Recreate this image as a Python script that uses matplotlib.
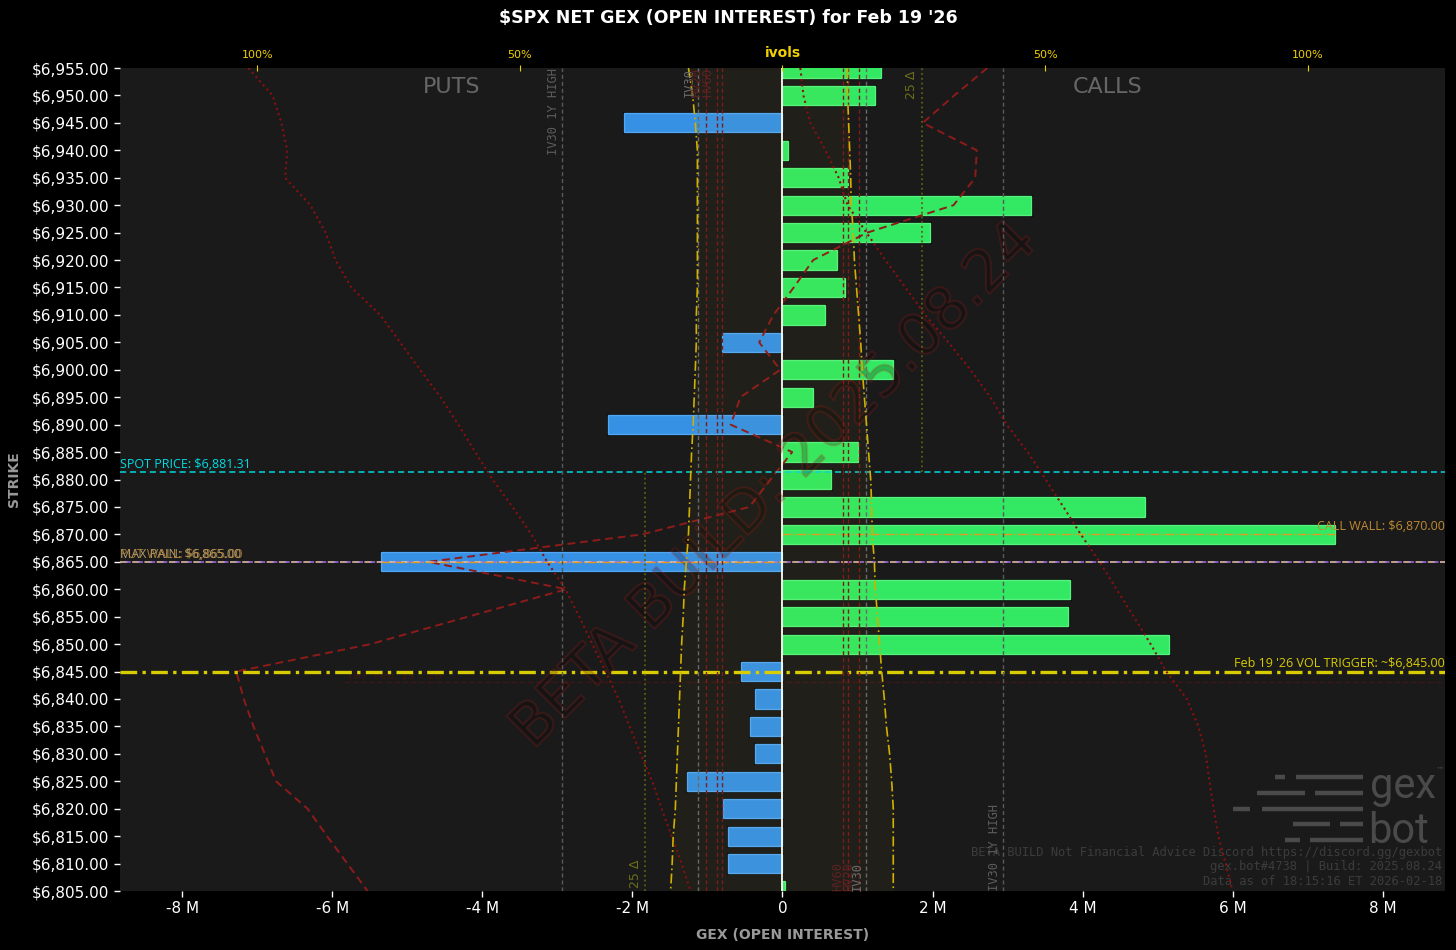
import numpy as np
import matplotlib
matplotlib.use('Agg')
import matplotlib.pyplot as plt
from matplotlib import patheffects
from matplotlib.lines import Line2D
from matplotlib.ticker import FuncFormatter, FixedLocator

plt.rcParams['font.family'] = ['DejaVu Sans']
plt.rcParams['text.parse_math'] = False

# ==================== 数据 ====================
strikes = [6955, 6950, 6945, 6940, 6935, 6930, 6925, 6920, 6915, 6910,
           6905, 6900, 6895, 6890, 6885, 6880, 6875, 6870, 6865, 6860,
           6855, 6850, 6845, 6840, 6835, 6830, 6825, 6820, 6815, 6810, 6805]

# net GEX by strike (millions)
net_gex_m = [1.31, 1.24, -2.11, 0.07, 0.87, 3.31, 1.97, 0.73, 0.84, 0.57,
             -0.81, 1.48, 0.41, -2.32, 1.01, 0.65, 4.83, 7.37, -5.35, 3.83,
             3.81, 5.15, -0.55, -0.37, -0.43, -0.37, -1.27, -0.79, -0.73, -0.72, 0.04]

# previous profile (dashed dark red, millions)
profile_m = [2.73, 2.29, 1.87, 2.59, 2.57, 2.28, 1.13, 0.41, 0.15, -0.12,
             -0.31, -0.03, -0.56, -0.69, 0.13, -0.16, -0.44, -1.87, -4.72, -2.88,
             -4.19, -5.49, -7.28, -7.18, -7.05, -6.90, -6.75, -6.33, -6.07, -5.80, -5.53]

# ivols (fraction, 1.0 = 100%)
put_skew = [1.017, 0.971, 0.954, 0.943, 0.947, 0.899, 0.870, 0.851, 0.821, 0.766,
            0.728, 0.690, 0.651, 0.617, 0.585, 0.552, 0.514, 0.478, 0.448, 0.413,
            0.387, 0.362, 0.337, 0.312, 0.291, 0.270, 0.248, 0.230, 0.211, 0.192, 0.175]
call_skew = [0.034, 0.040, 0.053, 0.082, 0.107, 0.124, 0.160, 0.196, 0.234, 0.272,
             0.316, 0.358, 0.396, 0.427, 0.467, 0.501, 0.535, 0.568, 0.604, 0.636,
             0.669, 0.701, 0.731, 0.770, 0.792, 0.806, 0.813, 0.821, 0.830, 0.844, 0.857]
put_ivol = [0.179, 0.171, 0.166, 0.162, 0.162, 0.162, 0.162, 0.162, 0.162, 0.164,
            0.164, 0.166, 0.168, 0.170, 0.173, 0.175, 0.177, 0.179, 0.183, 0.187,
            0.189, 0.192, 0.194, 0.196, 0.198, 0.200, 0.202, 0.204, 0.208, 0.210, 0.213]
call_ivol = [0.124, 0.124, 0.126, 0.128, 0.130, 0.131, 0.135, 0.137, 0.141, 0.145,
             0.149, 0.152, 0.156, 0.160, 0.164, 0.168, 0.170, 0.171, 0.175, 0.177,
             0.181, 0.185, 0.189, 0.194, 0.198, 0.204, 0.208, 0.211, 0.211, 0.211, 0.211]

iv30_1y_high = 0.42
iv30 = 0.16
hv_levels = [('HV20', 0.145), ('HV60', 0.124), ('', 0.115)]
delta25_put = 0.261
delta25_call = 0.265

spot_price = 6881.31
max_pain = 6865.0
put_wall = 6865.0
call_wall = 6870.0
vol_trigger = 6845.0
weekly_level = 6843.1

title = "$SPX NET GEX (OPEN INTEREST) for Feb 19 '26"
footer = ("BETA BUILD Not Financial Advice Discord https://discord.gg/gexbot\n"
          "gex.bot#4738 | Build: 2025.08.24\n"
          "Data as of 18:15:16 ET 2026-02-18")

strikes = np.array(strikes, dtype=float)
net_gex_m = np.array(net_gex_m)
put_skew = np.array(put_skew)
call_skew = np.array(call_skew)
put_ivol = np.array(put_ivol)
call_ivol = np.array(call_ivol)

GEX_LIM = 8.83
VOL_PER_M = 7.0   # 100% ivol == 7M on main axis

# ==================== 画布 ====================
fig = plt.figure(figsize=(14.56, 9.5), dpi=100, facecolor='black')
ax = fig.add_axes([0.0824, 0.0621, 0.9100, 0.8663])
ax.set_facecolor('#1a1a1a')
for s in ax.spines.values():
    s.set_visible(False)

# bars
bar_colors = ['#33e862' if v > 0 else '#3690e4' for v in net_gex_m]
bar_edges = ['#55f27f' if v > 0 else '#52a6f2' for v in net_gex_m]
bars = ax.barh(strikes, net_gex_m, height=3.5, color=bar_colors, edgecolor=bar_edges,
               linewidth=1.0, zorder=2)
for b in bars:
    b.set_path_effects([patheffects.Stroke(linewidth=2.2, foreground='#0a0a0a'), patheffects.Normal()])

ax.axvline(0, color='white', lw=1.3, zorder=4)

ax.plot(profile_m, strikes, color='#8e1a1a', ls=(0, (4, 2.5)), lw=1.4, zorder=3)

# horizontal levels
ax.axhline(spot_price, color='#00d8e0', ls=(0, (4, 2.5)), lw=1.1, zorder=3)
ax.axhline(max_pain, color='#f0c4b4', ls=(0, (5, 3)), lw=1.1, zorder=3)
ax.axhline(max_pain, color='#9b70e6', ls=(4, (3, 5)), lw=1.1, zorder=3)
pw_val = net_gex_m[list(strikes).index(put_wall)]
cw_val = net_gex_m[list(strikes).index(call_wall)]
ax.hlines(put_wall, pw_val, 0, color='#e39a22', ls='-.', lw=1.0, zorder=3)
ax.hlines(call_wall, 0, cw_val, color='#e39a22', ls='-.', lw=1.0, zorder=3)
ax.hlines(weekly_level, -5.85, GEX_LIM, color='#3e1616', ls=(0, (4, 2)), lw=1.0, zorder=1)
ax.axhline(vol_trigger, color='#d8cc00', ls=(0, (5, 1.6, 1, 1.6)), lw=2.4, zorder=4)

# labels of levels
ytr = ax.get_yaxis_transform()
lab_font = dict(family=['Open Sans', 'DejaVu Sans'], fontsize=9)
ax.text(0.0, spot_price + 0.2, 'SPOT PRICE: $6,881.31', transform=ytr, color='#00dde6',
        ha='left', va='bottom', zorder=6, **lab_font)
ax.text(0.0, max_pain + 0.2, 'MAX PAIN: $6,865.00', transform=ytr, color='#b09a70',
        ha='left', va='bottom', zorder=6, **lab_font)
ax.text(0.0, put_wall + 0.2, 'PUT WALL: $6,865.00', transform=ytr, color='#b98a3c',
        ha='left', va='bottom', zorder=6, alpha=0.85, **lab_font)
ax.text(1.0, call_wall + 0.2, 'CALL WALL: $6,870.00', transform=ytr, color='#c08a30',
        ha='right', va='bottom', zorder=6, **lab_font)
ax.text(1.0, vol_trigger + 0.3, "Feb 19 '26 VOL TRIGGER: ~$6,845.00", transform=ytr,
        color='#d8cc00', ha='right', va='bottom', zorder=6, **lab_font)
ax.text(-5.8, weekly_level + 0.3, "(W) Feb 19 '26", color='#3e1616', fontsize=8,
        family='DejaVu Sans Mono', ha='left', va='bottom', zorder=1)

ax.text(0.25, 0.977, 'PUTS', transform=ax.transAxes, color='#666666', fontsize=16,
        ha='center', va='center')
ax.text(0.745, 0.977, 'CALLS', transform=ax.transAxes, color='#666666', fontsize=16,
        ha='center', va='center')

ax.text(0.494, 0.493, 'BETA BUILD: 2025.08.24', transform=ax.transAxes, rotation=45,
        ha='center', va='center', fontsize=42, color='none', zorder=7,
        path_effects=[patheffects.Stroke(linewidth=1.5, foreground='#c01e1e', alpha=0.2)])

ax.text(0.998, 0.004, footer, transform=ax.transAxes, ha='right', va='bottom',
        multialignment='right', family='DejaVu Sans Mono', fontsize=8.7,
        color='#3c3c3c', linespacing=1.15, zorder=7)

# axes formatting
ax.set_xlim(-GEX_LIM, GEX_LIM)
ax.set_ylim(6805, 6955)
ax.yaxis.set_major_locator(FixedLocator(strikes))
ax.yaxis.set_major_formatter(FuncFormatter(lambda v, p: f'${v:,.2f}'))
ax.xaxis.set_major_locator(FixedLocator([-8, -6, -4, -2, 0, 2, 4, 6, 8]))
ax.xaxis.set_major_formatter(FuncFormatter(lambda v, p: '0' if abs(v) < 1e-9 else f'{v:.0f} M'))
ax.tick_params(axis='both', colors='white', labelsize=11, length=4, width=1)
ax.set_xlabel('GEX (OPEN INTEREST)', color='#999999', fontsize=10, fontweight='bold', labelpad=8)
ax.set_ylabel('STRIKE', color='#999999', fontsize=10, fontweight='bold', labelpad=8)

# ==================== ivols 轴 ====================
ax2 = ax.twiny()
for s in ax2.spines.values():
    s.set_visible(False)
ax2.set_xlim(-GEX_LIM / VOL_PER_M, GEX_LIM / VOL_PER_M)
ax2.set_xticks([-1, -0.5, 0, 0.5, 1])
ax2.set_xticklabels(['100%', '50%', 'ivols', '50%', '100%'])
ax2.tick_params(axis='x', colors='#f0d000', labelcolor='#f0d000', labelsize=8,
                length=5, direction='inout', pad=3)
ivl = ax2.get_xticklabels()[2]
ivl.set_fontsize(10)
ivl.set_fontweight('bold')

ax2.fill_betweenx(strikes, -put_ivol, call_ivol, color='#ffd700', alpha=0.03, lw=0, zorder=0)

for sign, lab_y, va in [(-1, 6955, 'top'), (1, 6805, 'bottom')]:
    ax2.axvline(sign * iv30_1y_high, color='#585858', ls=(0, (3, 2)), lw=1.0)
    ax2.text(sign * iv30_1y_high - 0.004, lab_y, 'IV30 1Y HIGH', rotation=90, ha='right',
             va=va, family='DejaVu Sans Mono', fontsize=8.7, color='#5c5c5c')
    ax2.axvline(sign * iv30, color='#6a6a6a', ls=(0, (3, 2)), lw=1.0)
    ax2.text(sign * iv30 - 0.006, lab_y, 'IV30', rotation=90, ha='right', va=va,
             family='DejaVu Sans Mono', fontsize=8.7, color='#6a6a6a')
    for name, lvl in hv_levels:
        ax2.axvline(sign * lvl, color='#7c1c1c', ls=(0, (3, 2)), lw=1.0)
        if name:
            ax2.text(sign * lvl - 0.006, lab_y, name, rotation=90, ha='right', va=va,
                     family='DejaVu Sans Mono', fontsize=8.7, color='#5e2222')

ax2.vlines(-delta25_put, 6805, spot_price, color='#5e5e12', ls=':', lw=1.3)
ax2.vlines(delta25_call, spot_price, 6955, color='#5e5e12', ls=':', lw=1.3)
ax2.text(-delta25_put - 0.006, 6805.5, '25 Δ', rotation=90, ha='right', va='bottom',
         fontsize=9, color='#6e6e1c')
ax2.text(delta25_call - 0.006, 6954.5, '25 Δ', rotation=90, ha='right', va='top',
         fontsize=9, color='#6e6e1c')

ax2.plot(-put_skew, strikes, color='#8a1010', ls=':', lw=1.5)
ax2.plot(call_skew, strikes, color='#8a1010', ls=':', lw=1.5)
ax2.plot(-put_ivol, strikes, color='#d0b000', ls=(0, (6, 2, 1, 2)), lw=1.2)
ax2.plot(call_ivol, strikes, color='#d0b000', ls=(0, (6, 2, 1, 2)), lw=1.2)
ax2.set_ylim(6805, 6955)

# ==================== 标题 / logo ====================
fig.text(0.5, 0.981, title, color='white', fontsize=12.5, fontweight='bold',
         ha='center', va='center')

W, H = 1456.0, 950.0
logo_bars = [(1275, 1285, 777), (1296, 1363, 777),
             (1257, 1305, 793), (1315, 1363, 793),
             (1233, 1250, 809), (1262, 1363, 809),
             (1293, 1330, 824), (1340, 1363, 824),
             (1285, 1300, 840), (1310, 1363, 840)]
for x0, x1, y in logo_bars:
    fig.add_artist(Line2D([x0 / W, x1 / W], [1 - y / H, 1 - y / H], transform=fig.transFigure,
                          color='#4a4a4a', lw=3.2, solid_capstyle='butt'))
fig.text(1370 / W, 1 - 798 / H, 'gex', color='#4a4a4a', fontsize=30,
         family=['Roboto', 'DejaVu Sans'], ha='left', va='baseline')
fig.text(1368 / W, 1 - 843 / H, 'bot', color='#4a4a4a', fontsize=30,
         family=['Roboto', 'DejaVu Sans'], ha='left', va='baseline')
fig.text(1436 / W, 1 - 770 / H, '™', color='#4a4a4a', fontsize=6, ha='left', va='center')

fig.savefig('out.png', dpi=100, facecolor='black')
